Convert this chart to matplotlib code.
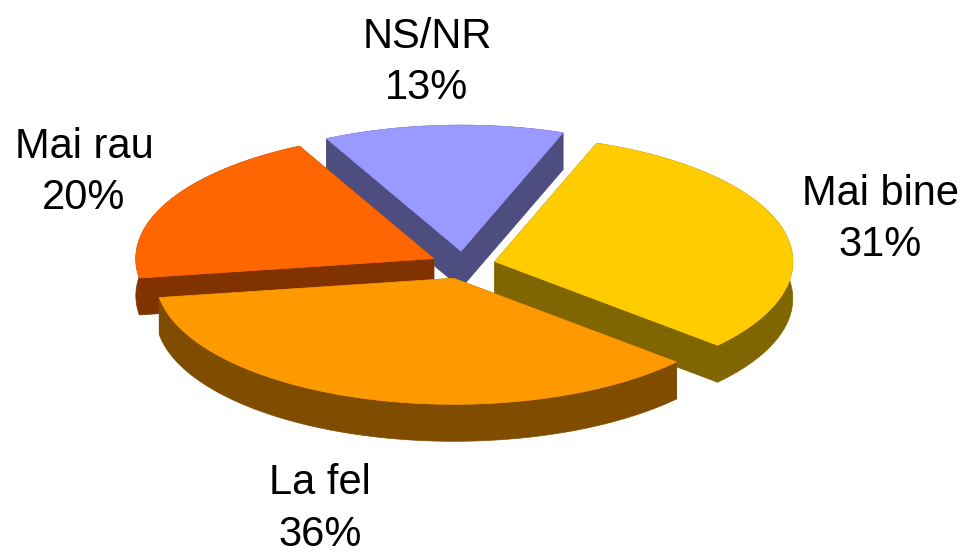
import numpy as np
import matplotlib
matplotlib.use("Agg")
import matplotlib.pyplot as plt
from matplotlib.patches import Polygon

labels = ["Mai bine", "La fel", "Mai rau", "NS/NR"]
shares = [31, 36, 20, 13]
top_colors = ["#FFCC00", "#FF9900", "#FF6600", "#9999FF"]
side_colors = ["#806600", "#804D00", "#803300", "#4D4D80"]
label_xy = [(880, 219.5), (320, 509), (84, 172.5), (427, 62.5)]

start_angle = 70
cx, cy = 463, 265
rx, ry = 298, 126
depth = 37
explode = 0.11


def _ellipse_points(apex, a0, a1):
    t = np.radians(np.linspace(a0, a1, 120))
    x = apex[0] + rx * np.cos(t)
    y = apex[1] - ry * np.sin(t)
    return np.column_stack([x, y])


def _add_poly(ax, pts, color, z):
    ax.add_patch(Polygon(pts, closed=True, facecolor=color, edgecolor=color, linewidth=0.5, zorder=z))


fig = plt.figure(figsize=(9.6, 5.53), dpi=100)
ax = fig.add_axes([0, 0, 1, 1])
ax.set_xlim(0, 960)
ax.set_ylim(553, 0)
ax.axis("off")

a = start_angle
# back slices first so the front ones cover them
order = {3: 1, 2: 2, 0: 3, 1: 4}
for i, share in enumerate(shares):
    span = share / sum(shares) * 360
    a0, a1 = a, a - span
    a = a1
    mid = np.radians((a0 + a1) / 2)
    apex = (cx + explode * rx * np.cos(mid), cy - explode * ry * np.sin(mid))
    arc = _ellipse_points(apex, a0, a1)
    z = order[i] * 10
    down = np.array([0, depth])

    # cut walls
    p = np.array(apex)
    for end in (arc[0], arc[-1]):
        _add_poly(ax, [p, end, end + down, p + down], side_colors[i], z)
    # outer wall
    _add_poly(ax, np.vstack([arc, (arc + down)[::-1]]), side_colors[i], z + 1)
    # top face
    _add_poly(ax, np.vstack([p, arc]), top_colors[i], z + 2)

    ax.text(label_xy[i][0], label_xy[i][1], f"{labels[i]}\n{share}%", ha="center", va="center",
            fontsize=30, family="Liberation Sans", color="black", linespacing=1.36, zorder=100)

fig.savefig("out.png", dpi=100, facecolor="white")
